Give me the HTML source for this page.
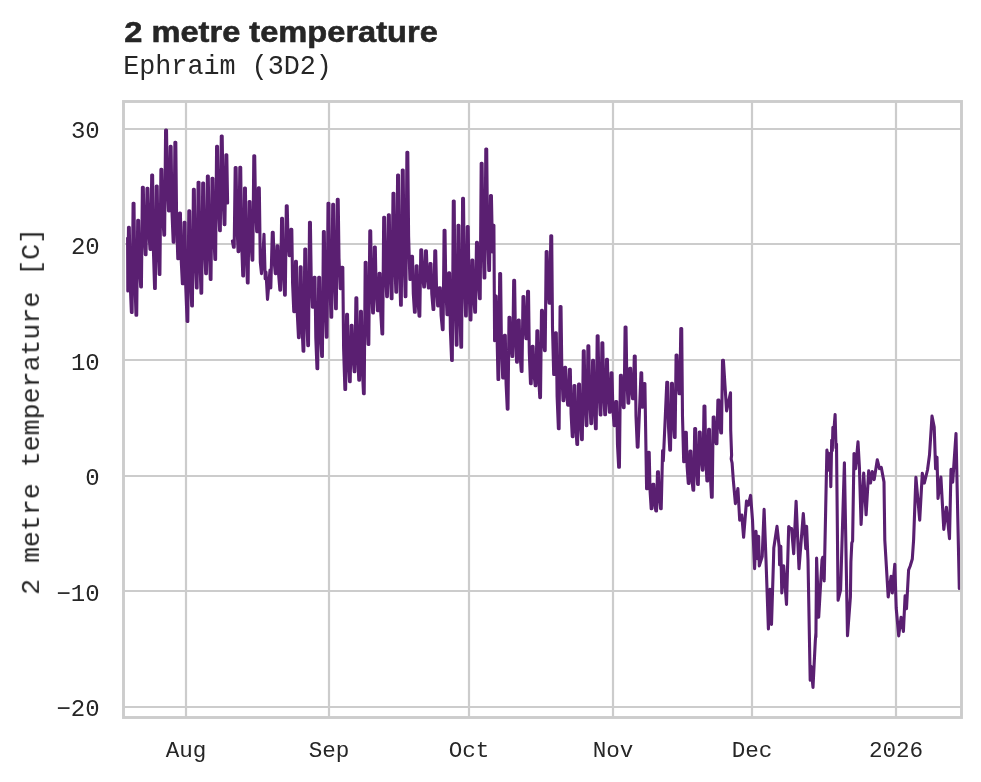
<!DOCTYPE html>
<html><head><meta charset="utf-8"><title>2 metre temperature</title>
<style>html,body{margin:0;padding:0;background:#fff;overflow:hidden}svg{display:block}</style></head>
<body>
<svg width="981" height="782" viewBox="0 0 981 782">
<rect width="981" height="782" fill="#ffffff"/>
<g stroke="#cccccc" stroke-width="2.2" fill="none">
<line x1="123.5" x2="961.5" y1="129.0" y2="129.0"/>
<line x1="123.5" x2="961.5" y1="244.0" y2="244.0"/>
<line x1="123.5" x2="961.5" y1="360.0" y2="360.0"/>
<line x1="123.5" x2="961.5" y1="476.0" y2="476.0"/>
<line x1="123.5" x2="961.5" y1="591.0" y2="591.0"/>
<line x1="123.5" x2="961.5" y1="707.0" y2="707.0"/>
<line x1="186.0" x2="186.0" y1="101.5" y2="717.5"/>
<line x1="329.0" x2="329.0" y1="101.5" y2="717.5"/>
<line x1="469.0" x2="469.0" y1="101.5" y2="717.5"/>
<line x1="613.0" x2="613.0" y1="101.5" y2="717.5"/>
<line x1="752.0" x2="752.0" y1="101.5" y2="717.5"/>
<line x1="896.0" x2="896.0" y1="101.5" y2="717.5"/>
</g>
<clipPath id="c"><rect x="123.5" y="101.5" width="838.0" height="616.0"/></clipPath>
<g clip-path="url(#c)" fill="none" stroke="#5a1f71" stroke-width="3.1" stroke-linejoin="round" stroke-linecap="round">
<polyline points="127.6,238.0 127.8,290.9 128.5,227.3 129.3,227.3 130.2,283.5 131.4,312.4 132.1,312.4 133.1,203.3 134.0,203.3 134.8,277.2 136.0,315.2 136.7,315.2 137.7,220.2 138.6,220.2 139.4,264.3 140.7,287.0 141.4,287.0 142.4,187.2 143.3,187.2 144.1,231.8 145.3,254.7 146.0,254.7 147.0,188.4 147.9,188.4 148.7,228.7 150.0,249.4 150.7,249.4 151.7,175.1 152.6,175.1 153.4,249.9 154.6,288.5 155.3,288.5 156.3,186.1 157.2,186.1 158.0,244.4 159.2,274.4 159.9,274.4 160.9,169.4 161.8,169.4 162.6,212.8 163.9,235.1 164.6,235.1 165.6,130.0 166.5,130.0 167.3,183.4 168.5,210.9 169.2,210.9 170.2,146.4 171.1,146.4 171.9,209.6 173.2,242.2 173.9,242.2 174.9,142.2 175.8,142.2 176.6,219.1 177.8,258.7 178.5,258.7 179.5,213.0 180.4,213.0 181.2,259.7 182.4,283.8 183.1,283.8 184.1,222.3 185.0,222.3 185.8,287.8 187.1,321.5 187.8,321.5 188.8,210.9 189.7,210.9 190.5,273.6 191.7,305.9 192.4,305.9 193.4,189.4 194.3,189.4 195.1,254.5 196.4,288.0 197.1,288.0 198.1,182.2 199.0,182.2 199.8,255.4 201.0,293.1 201.7,293.1 202.7,183.0 203.6,183.0 204.4,242.9 205.7,273.7 206.4,273.7 207.4,176.1 208.3,176.1 209.1,244.3 210.3,279.5 211.0,279.5 212.0,178.2 212.9,178.2 213.7,231.8 214.9,259.4 215.6,259.4 216.6,146.2 217.5,146.2 218.3,202.0 219.6,230.8 220.3,230.8 221.3,136.1 222.2,136.1 223.0,194.5 224.2,224.6 224.9,224.6 225.9,154.8 226.8,154.8 227.6,203.0"/>
<polyline points="232.4,241.0 233.5,247.3 234.2,247.3 235.2,167.5 236.1,167.5 236.9,223.0 238.1,251.6 238.8,251.6 239.8,167.2 240.7,167.2 241.5,238.9 242.8,275.9 243.5,275.9 244.5,188.0 245.4,188.0 246.2,250.7 247.4,283.0 248.1,283.0 249.1,201.6 250.0,201.6 250.8,240.2 252.1,260.1 252.8,260.1 253.8,155.7 254.7,155.7 255.5,205.8 256.7,231.6 257.4,231.6 258.4,187.9 259.3,187.9 260.3,262.0 261.5,273.6 262.6,262.0 264.0,234.2 265.2,278.6 266.0,272.0 267.5,299.4 269.2,280.0 270.0,270.0 270.8,288.0 272.3,232.3 273.2,232.3 274.0,259.6 275.3,273.7 276.0,273.7 277.0,245.9 277.9,245.9 278.7,275.1 279.9,290.1 280.6,290.1 281.6,218.4 282.5,218.4 283.3,269.0 284.6,295.1 285.3,295.1 286.3,205.8 287.2,205.8 288.0,238.7 289.2,255.6 289.9,255.6 290.9,229.4 291.8,229.4 292.6,283.7 293.8,311.6 294.5,311.6 295.5,261.4 296.4,261.4 297.2,311.7 298.5,337.6 299.2,337.6 300.2,266.9 301.1,266.9 301.9,322.5 303.1,351.2 303.8,351.2 304.8,249.0 305.7,249.0 306.5,312.8 307.8,345.6 308.5,345.6 309.5,222.3 310.4,222.3 311.2,278.4 312.4,307.3 313.1,307.3 314.1,277.2 315.0,277.2 315.8,337.6 317.0,368.7 317.7,368.7 318.7,277.2 319.6,277.2 320.4,329.5 321.7,356.5 322.4,356.5 323.4,231.6 324.3,231.6 325.1,301.2 326.3,337.1 327.0,337.1 328.0,203.2 328.9,203.2 329.7,278.5 331.0,317.3 331.7,317.3 332.7,204.4 333.6,204.4 334.4,273.2 335.6,308.7 336.3,308.7 337.3,199.4 338.2,199.4 339.0,258.3 340.2,288.6 340.9,288.6 341.9,267.2 342.8,267.2 343.6,347.9 344.9,389.5 345.6,389.5 346.6,314.4 347.5,314.4 348.3,358.8 349.5,381.6 350.2,381.6 351.2,325.4 352.1,325.4 352.9,356.0 354.2,371.8 354.9,371.8 355.9,297.9 356.8,297.9 357.6,352.2 358.8,380.2 359.5,380.2 360.5,311.3 361.4,311.3 362.2,365.8 363.5,393.8 364.2,393.8 365.2,262.2 366.1,262.2 366.9,316.5 368.1,344.5 368.8,344.5 369.8,230.9 370.7,230.9 371.5,285.1 372.7,313.0 373.4,313.0 374.4,247.0 375.3,247.0 376.1,289.0 377.4,310.6 378.1,310.6 379.1,273.2 380.0,273.2 380.8,313.3 382.0,333.9 382.7,333.9 383.7,217.3 384.6,217.3 385.4,269.6 386.7,296.6 387.4,296.6 388.4,214.7 389.3,214.7 390.1,270.1 391.3,298.7 392.0,298.7 393.0,193.2 393.9,193.2 394.7,258.6 395.9,292.3 396.6,292.3 397.6,175.1 398.5,175.1 399.3,261.0 400.6,305.2 401.3,305.2 402.3,170.0 403.2,170.0 404.0,253.6 405.2,296.6 405.9,296.6 406.9,152.2 407.8,152.2 408.6,236.2 409.9,279.4 410.6,279.4 411.6,256.4 412.5,256.4 413.3,293.3 414.5,312.3 415.2,312.3 416.2,265.8 417.1,265.8 417.9,299.1 419.1,316.2 419.8,316.2 420.8,249.7 421.7,249.7 422.5,274.3 423.8,287.0 424.5,287.0 425.5,250.7 426.4,250.7 427.2,275.3 428.4,288.0 429.1,288.0 430.1,263.6 431.0,263.6 431.8,293.9 433.1,309.5 433.8,309.5 434.8,250.7 435.7,250.7 436.5,287.1 437.7,305.9 438.4,305.9 439.4,287.9 440.3,287.9 441.1,315.4 442.4,329.6 443.1,329.6 444.1,230.2 445.0,230.2 445.8,285.9 447.0,314.6 447.7,314.6 448.7,272.9 449.6,272.9 450.4,330.7 451.6,360.4 452.3,360.4 453.3,201.1 454.2,201.1 455.0,296.1 456.3,345.1 457.0,345.1 458.0,225.2 458.9,225.2 459.7,305.7 460.9,347.2 461.6,347.2 462.6,198.4 463.5,198.4 464.3,276.0 465.6,315.9 466.3,315.9 467.3,226.6 468.2,226.6 469.0,288.2 470.2,319.9 470.9,319.9 471.9,260.0 472.8,260.0 473.6,294.5 474.8,312.3 475.5,312.3 476.5,242.4 477.4,242.4 478.2,279.6 479.5,298.7 480.2,298.7 481.2,163.2 482.1,163.2 482.9,239.0 484.1,278.0 484.8,278.0 485.8,149.0 486.7,149.0 487.5,229.1 488.8,270.4 489.5,270.4 490.5,195.5 491.4,195.5 492.5,252.0 493.9,225.2 494.6,340.8 496.2,296.0 498.0,379.4 498.7,379.4 499.7,273.6 500.6,273.6 501.4,342.5 502.7,378.0 503.4,378.0 504.4,335.2 505.3,335.2 506.1,384.0 507.3,409.1 508.0,409.1 509.0,317.3 509.9,317.3 510.7,343.2 512.0,356.5 512.7,356.5 513.7,280.4 514.6,280.4 515.4,334.3 516.6,362.1 517.3,362.1 518.3,320.1 519.2,320.1 520.0,354.0 521.3,371.5 522.0,371.5 523.0,296.5 523.9,296.5 524.7,324.3 525.9,338.6 526.6,338.6 527.6,291.2 528.5,291.2 529.3,352.2 530.5,383.6 531.2,383.6 532.2,346.4 533.1,346.4 533.9,372.4 535.2,385.8 535.9,385.8 536.9,330.8 537.8,330.8 538.6,374.9 539.8,397.6 540.5,397.6 541.5,310.4 542.4,310.4 543.2,336.9 544.5,350.6 545.2,350.6 546.2,251.5 547.1,251.5 547.9,285.6 549.1,303.1 549.8,303.1 550.8,235.8 551.7,235.8 552.5,327.3 553.7,374.4 554.4,374.4 555.4,332.7 556.3,332.7 557.1,396.1 558.4,428.8 559.1,428.8 560.1,306.5 561.0,306.5 561.8,368.6 563.0,400.6 563.7,400.6 564.7,367.4 565.6,367.4 566.4,392.3 567.7,405.1 568.4,405.1 569.4,369.2 570.3,369.2 571.1,413.7 572.3,436.6 573.0,436.6 574.0,385.5 574.9,385.5 575.7,424.4 576.9,444.5 577.6,444.5 578.6,384.0 579.5,384.0 580.3,420.7 581.6,439.6 582.3,439.6 583.3,350.9 584.2,350.9 585.0,400.2 586.2,425.6 586.9,425.6 587.9,345.9 588.8,345.9 589.6,397.2 590.9,423.6 591.6,423.6 592.6,360.4 593.5,360.4 594.3,405.5 595.5,428.8 596.2,428.8 597.2,335.8 598.1,335.8 598.9,388.0 600.2,414.9 600.9,414.9 601.9,342.7 602.8,342.7 603.6,390.3 604.8,414.8 605.5,414.8 606.5,359.4 607.4,359.4 608.2,394.3 609.4,412.3 610.1,412.3 611.1,372.9 612.0,372.9 612.8,407.7 614.1,425.6 614.8,425.6 615.8,401.5 616.7,401.5 617.5,444.9 618.7,467.3 619.4,467.3 620.4,375.4 621.3,375.4 622.1,396.7 623.4,407.6 624.1,407.6 625.1,327.0 626.0,327.0 626.8,377.2 628.0,403.1 628.7,403.1 629.7,368.4 630.6,368.4 631.4,388.4 632.6,398.7 633.3,398.7 634.3,356.1 635.2,356.1 636.0,416.3 637.3,447.3 638.0,447.3 641.0,372.9 641.7,372.9 642.3,407.3 642.6,407.3 644.2,383.6 644.9,383.6 646.6,488.8 647.3,488.8 648.3,452.4 649.2,452.4 650.0,489.6 651.2,508.8 651.9,508.8 652.9,484.4 653.8,484.4 654.6,501.9 655.8,510.9 656.5,510.9 657.5,471.8 658.4,471.8 659.2,496.1 660.5,508.6 661.2,508.6 662.6,450.5 663.3,461.0 665.4,414.4 666.8,382.3 667.7,382.3 668.5,427.0 669.8,450.1 670.5,450.1 671.5,383.3 672.4,383.3 673.2,419.1 674.4,437.5 675.1,437.5 676.1,355.1 677.0,355.1 677.8,380.6 679.1,393.8 679.8,393.8 680.8,328.6 681.7,328.6 682.5,416.4 683.7,461.6 684.4,461.6 685.4,432.4 686.3,432.4 687.1,466.1 688.3,483.4 689.0,483.4 690.0,451.1 690.9,451.1 691.7,476.9 693.0,490.2 693.7,490.2 694.7,428.6 695.6,428.6 696.4,465.4 697.6,484.4 698.3,484.4 699.3,432.1 700.2,432.1 701.0,457.2 702.3,470.1 703.0,470.1 704.0,406.1 704.9,406.1 705.7,455.5 706.9,480.9 707.6,480.9 708.6,429.3 709.5,429.3 710.3,474.2 711.5,497.3 712.2,497.3 713.2,417.1 714.1,417.1 714.9,434.7 716.2,443.7 716.9,443.7 717.9,400.1 718.8,400.1 719.6,421.7 720.8,432.9 721.5,432.9 722.5,360.4 723.4,360.4 726.6,410.9 730.5,392.7 730.7,430.0 731.6,455.0 731.2,459.0 732.1,463.0 733.3,480.0 735.4,503.6 737.9,488.6 739.7,520.1 741.8,515.0 743.6,537.3 746.5,501.1 748.3,505.1 750.6,495.4 752.5,520.0 754.6,568.8 756.0,531.4 757.5,558.6 758.6,536.4 759.3,565.9 762.2,556.6 764.1,509.4 766.0,560.0 768.4,629.0 770.0,589.4 771.5,624.4 773.5,560.0 773.8,548.0 777.0,526.4 779.2,547.0 779.6,564.6 780.8,546.4 781.8,592.9 783.7,565.9 786.5,604.4 788.7,526.5 790.3,528.6 791.6,528.6 793.7,553.8 796.1,501.2 799.0,568.8 803.3,513.6 805.8,548.6 806.6,526.4 808.0,560.0 810.2,680.2 811.0,666.4 813.0,687.4 815.3,641.0 815.9,633.0 815.9,637.0 816.6,558.0 818.7,617.2 822.0,560.0 822.8,557.3 824.2,580.9 826.9,450.1 828.0,464.6 828.7,453.4 829.5,470.6 830.1,453.6 830.8,486.6 831.7,440.0 832.3,450.6 832.9,427.2 833.6,434.6 835.1,414.6 836.0,448.0 836.5,444.0 838.1,600.2 840.6,590.0 841.2,570.0 844.4,462.7 847.5,635.6 850.4,597.0 850.9,562.0 851.8,543.0 852.6,541.0 854.0,453.6 855.6,468.6 858.0,441.9 859.4,467.0 861.1,524.4 863.7,473.0 866.1,514.8 868.7,470.8 870.5,483.0 872.3,471.5 874.2,479.6 877.3,459.8 879.5,468.6 881.3,467.5 884.0,482.0 884.8,540.0 888.2,597.0 891.1,576.4 892.3,593.0 894.8,564.2 896.2,608.0 898.7,635.9 901.1,617.3 903.4,631.4 905.1,595.8 906.5,608.6 908.6,570.0 910.2,566.0 912.3,559.0 913.6,540.0 915.9,477.2 919.7,520.1 922.3,473.4 924.3,483.1 927.5,470.0 929.5,455.0 932.0,416.1 934.2,427.0 935.6,468.6 937.0,457.2 938.0,498.4 940.9,477.1 943.8,529.4 946.4,507.2 949.5,538.7 951.0,469.4 952.7,482.2 956.0,433.6 959.3,588.5"/>
</g>
<rect x="123.5" y="101.5" width="838.0" height="616.0" fill="none" stroke="#cccccc" stroke-width="2.9"/>
<g opacity="0.999">
<g fill="#262626" font-family="'Liberation Mono', monospace" font-size="24px">
<text x="99.7" y="138.0" text-anchor="end">30</text>
<text x="99.7" y="254.0" text-anchor="end">20</text>
<text x="99.7" y="370.0" text-anchor="end">10</text>
<text x="99.7" y="485.0" text-anchor="end">0</text>
<text x="99.7" y="601.0" text-anchor="end">−10</text>
<text x="99.7" y="716.0" text-anchor="end">−20</text>
</g>
<g fill="#262626" font-family="'Liberation Mono', monospace" font-size="22.6px">
<text x="186.0" y="756.9" text-anchor="middle">Aug</text>
<text x="329.0" y="756.9" text-anchor="middle">Sep</text>
<text x="469.0" y="756.9" text-anchor="middle">Oct</text>
<text x="613.0" y="756.9" text-anchor="middle">Nov</text>
<text x="752.0" y="756.9" text-anchor="middle">Dec</text>
<text x="896.0" y="756.9" text-anchor="middle">2026</text>
</g>
<text x="124.3" y="42" textLength="313.5" lengthAdjust="spacingAndGlyphs" fill="#262626" font-family="'Liberation Sans', sans-serif" font-weight="bold" font-size="28.6px" stroke="#262626" stroke-width="0.55" id="title">2 metre temperature</text>
<text x="123.2" y="73.8" fill="#262626" font-family="'Liberation Mono', monospace" font-size="26.75px" id="sub">Ephraim (3D2)</text>
<text transform="translate(38.9,411.4) rotate(-90)" text-anchor="middle" fill="#262626" font-family="'Liberation Mono', monospace" font-size="26.6px" id="yl">2 metre temperature [C]</text>
</g>
</svg>
</body></html>
